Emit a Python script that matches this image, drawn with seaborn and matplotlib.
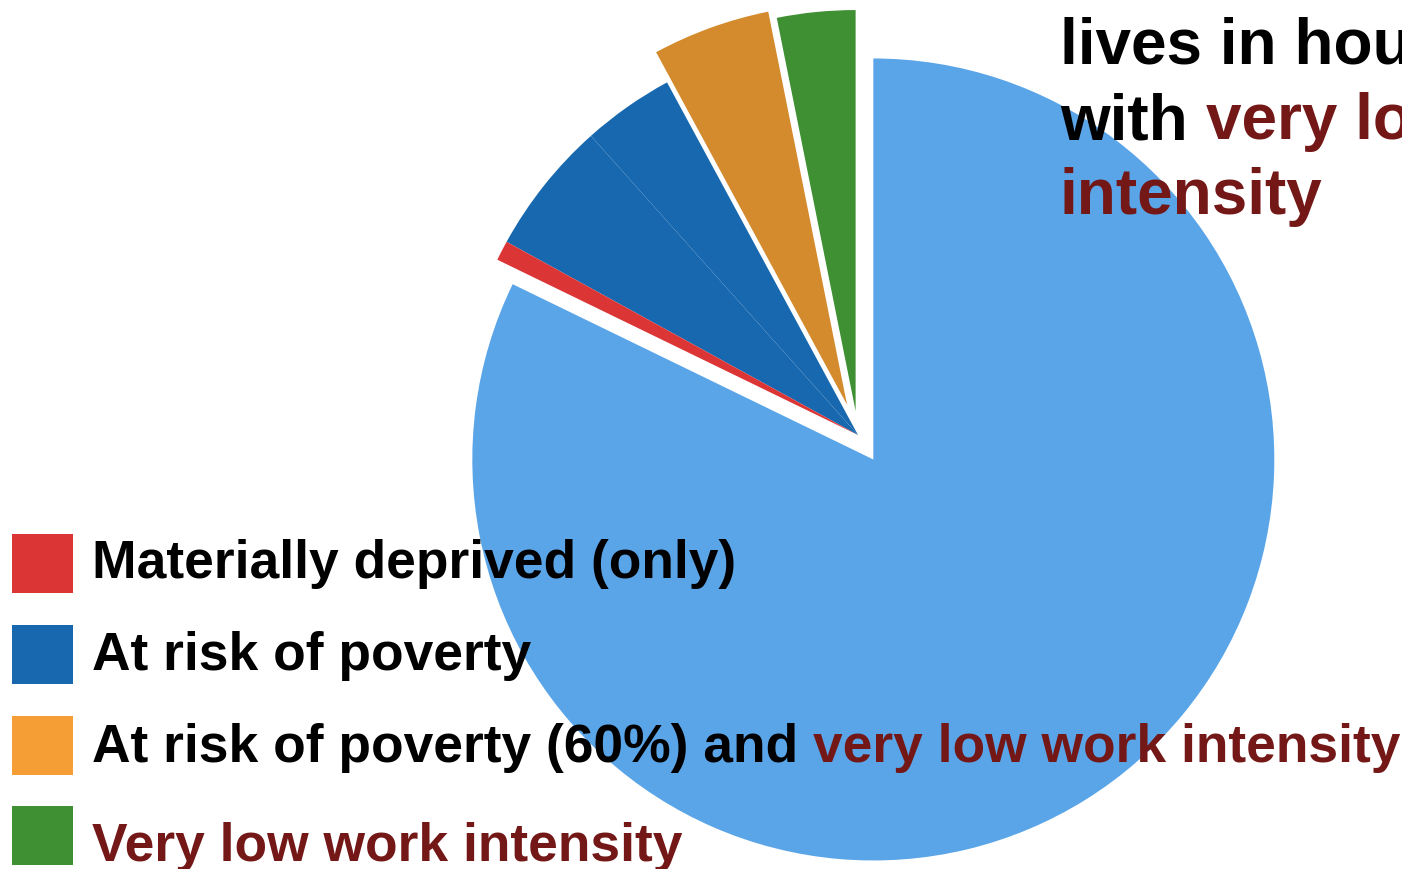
import seaborn as sns
import matplotlib.pyplot as plt
from matplotlib.patches import Rectangle

# slice data, clockwise from 12 o'clock (percent of people)
slice_names = ["Very low work intensity", "At risk of poverty (60%) and very low work intensity",
               "At risk of poverty (b)", "At risk of poverty (a)",
               "Materially deprived (only)", "None of these"]
slice_values = [3.15, 4.75, 3.7, 5.4, 0.8, 82.2]
slice_colors = ["#3f8f33", "#d48b2e", "#1868b0", "#1868b0", "#dc3535", "#5aa5e8"]
slice_explode = [0.06, 0.08, 0.0, 0.0, 0.0, 0.072]

# legend entries: list of (text, color) pieces per row
legend_colors = ["#dc3535", "#1868b0", "#f49e35", "#3f8f33"]
legend_rows = [
    [("Materially deprived (only)", "black")],
    [("At risk of poverty", "black")],
    [("At risk of poverty (60%) and ", "black"), ("very low work intensity", "#741717")],
    [("Very low work intensity", "#741717")],
]
title_lines = [
    [("lives in hou", "black")],
    [("with ", "black"), ("very lo", "#741717")],
    [("intensity", "#741717")],
]

sns.set_theme(style="white")
plt.rcParams["font.family"] = ["Liberation Sans", "DejaVu Sans"]

W, H = 1402, 869
fig = plt.figure(figsize=(W / 100, H / 100), dpi=100)

# pie axes, unit radius, centre placed at pixel (858, 435), radius 401 px
cx, cy, R = 858, 435, 401
ax = fig.add_axes([0, 0, 1, 1])
ax.pie(slice_values, colors=slice_colors, explode=slice_explode, startangle=90,
       counterclock=True, radius=1, wedgeprops=dict(linewidth=0))
ax.set_xlim(-cx / R, (W - cx) / R)
ax.set_ylim(-(H - cy) / R, cy / R)
ax.set_aspect("auto")
ax.axis("off")

# overlay axes in pixel units for text and legend
ov = fig.add_axes([0, 0, 1, 1], facecolor="none")
ov.set_xlim(0, W)
ov.set_ylim(H, 0)
ov.axis("off")
renderer = fig.canvas.get_renderer()


def draw_pieces(x, y, pieces, size):
    for s, c in pieces:
        t = ov.text(x, y, s, color=c, fontsize=size, fontweight="bold",
                    va="baseline", ha="left")
        bb = t.get_window_extent(renderer)
        x = bb.x1


for line, base in zip(title_lines, [63, 139, 214]):
    draw_pieces(1060, base, line, 46)

for color, row, top, base in zip(legend_colors, legend_rows, [534, 625, 716, 806], [578, 670, 762, 861]):
    ov.add_patch(Rectangle((12, top), 61, 59, color=color, lw=0))
    draw_pieces(92, base, row, 38.4)

fig.savefig("out.png", dpi=100)
